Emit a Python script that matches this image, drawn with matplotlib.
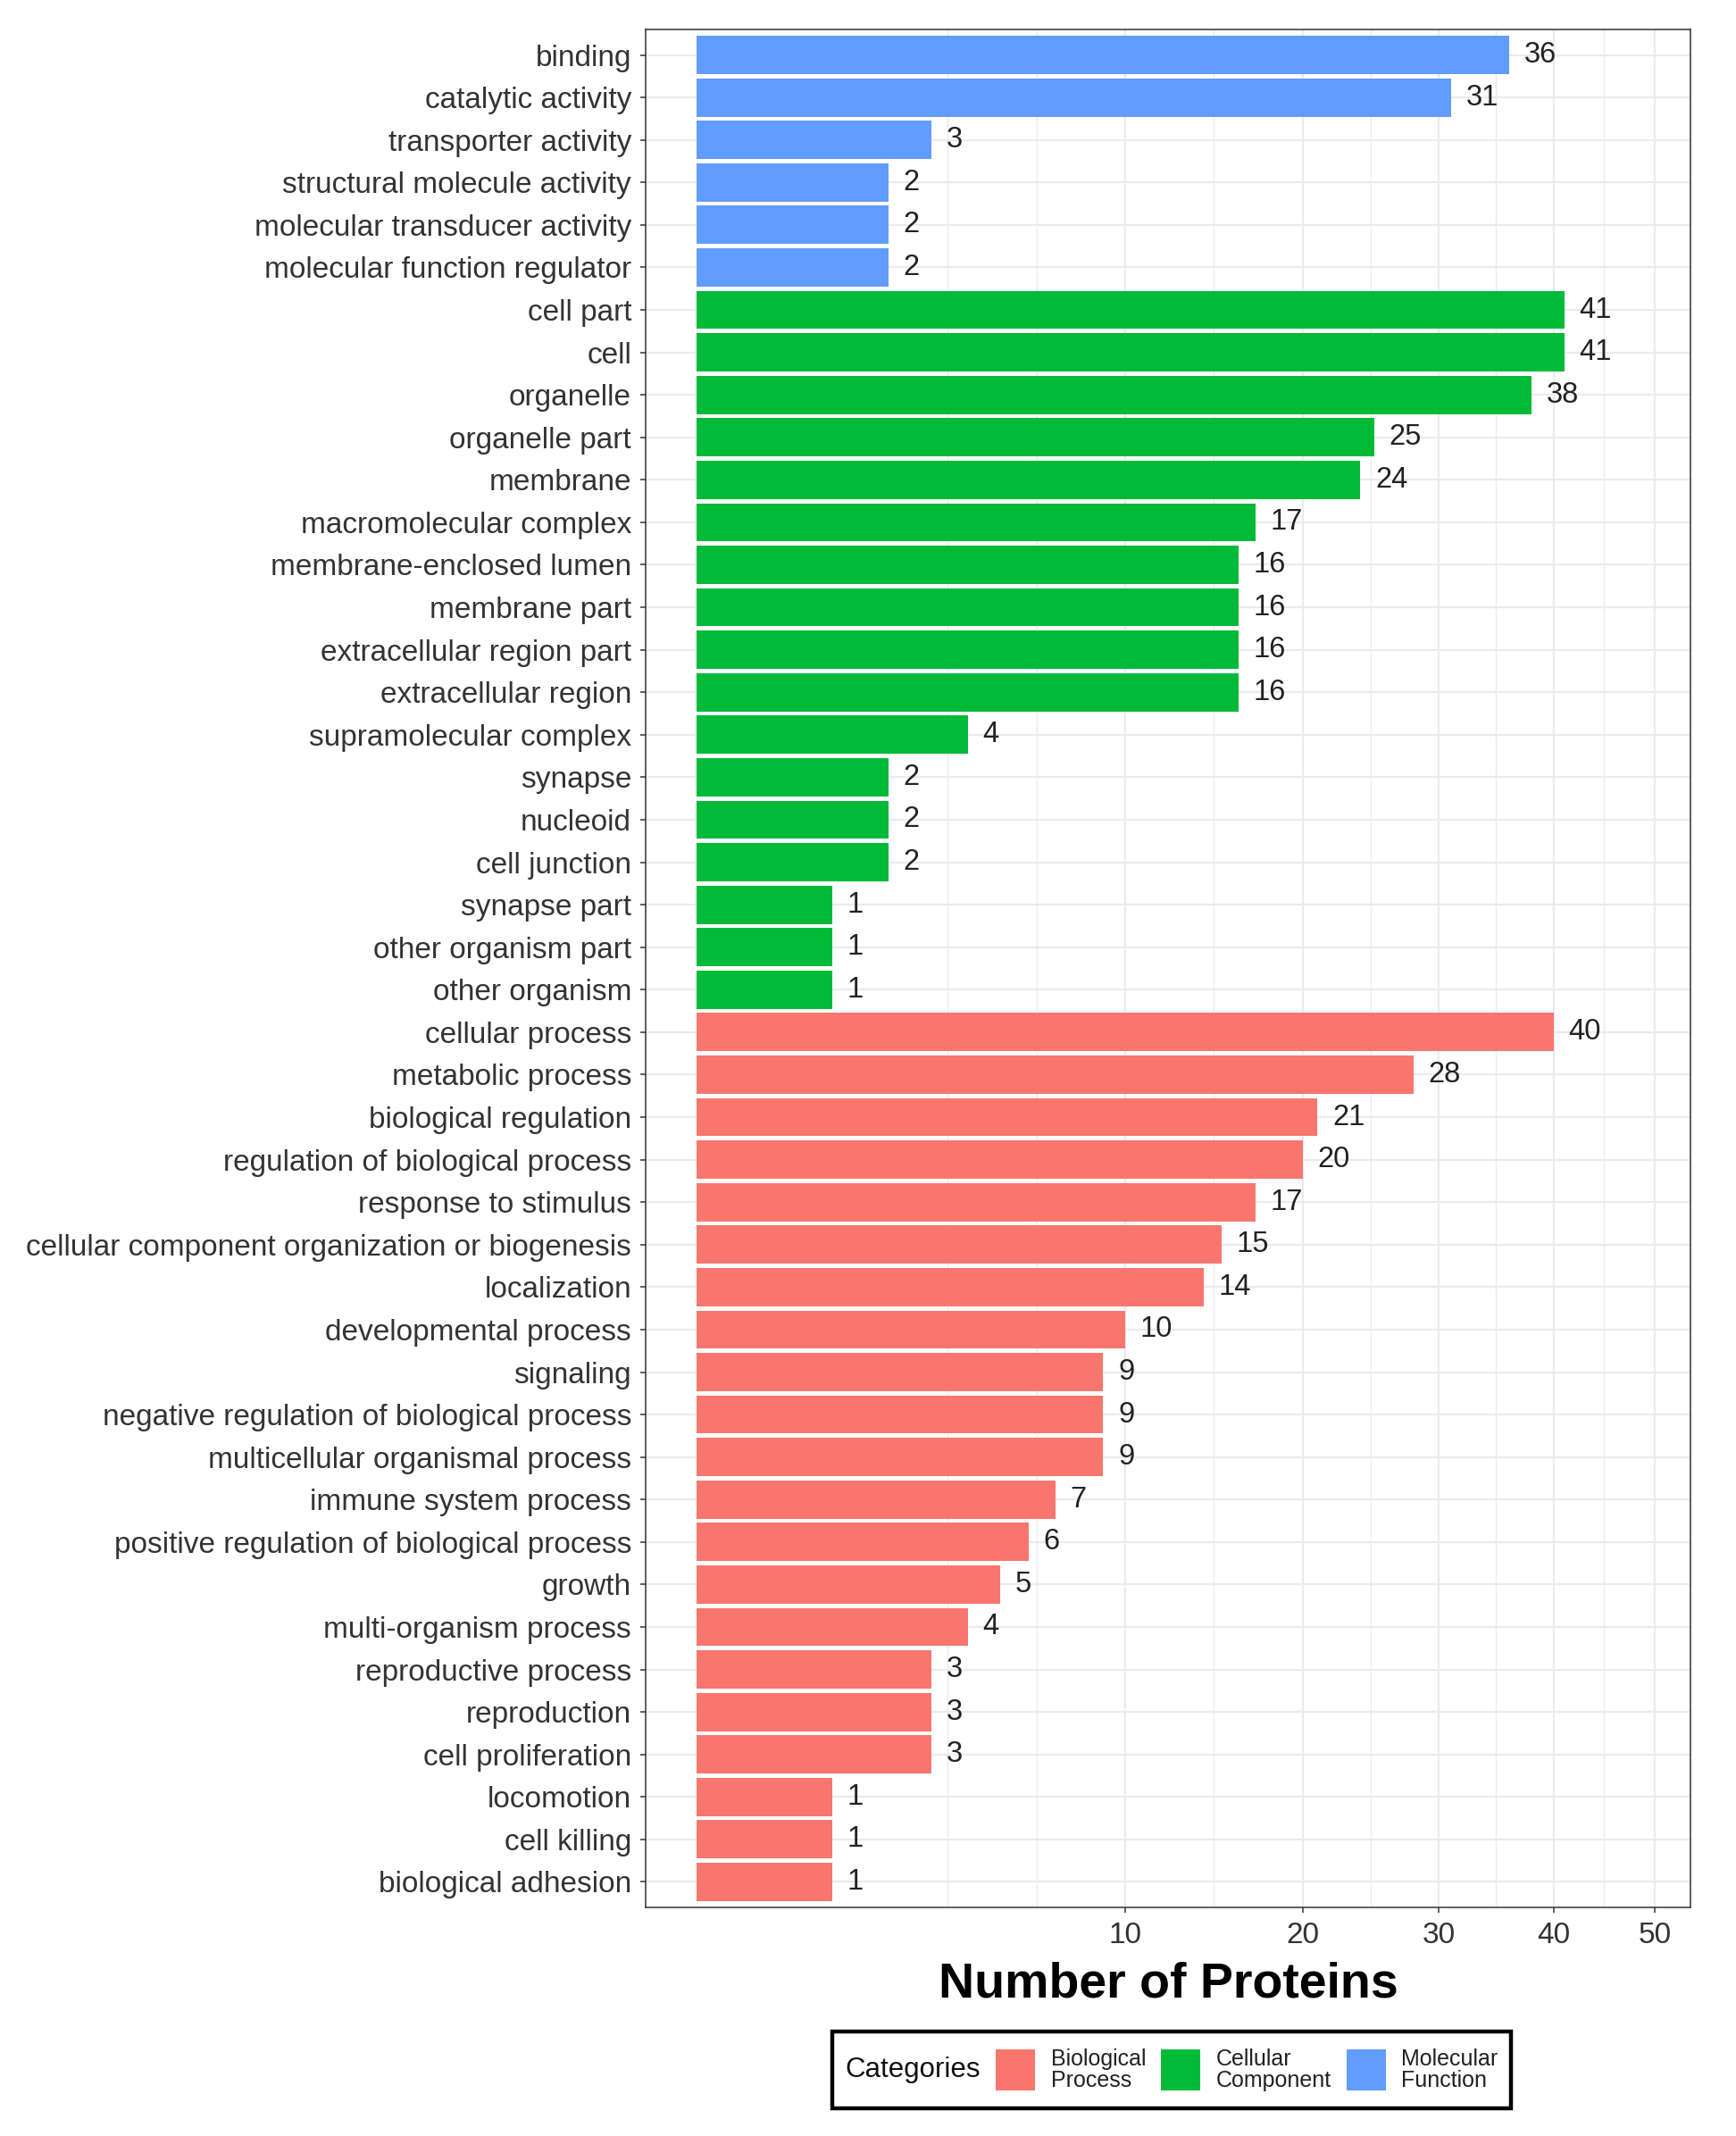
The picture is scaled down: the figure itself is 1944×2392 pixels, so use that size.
import numpy as np
import matplotlib
matplotlib.use("Agg")
import matplotlib.pyplot as plt
from matplotlib.offsetbox import (AnchoredOffsetbox, DrawingArea, HPacker,
                                  TextArea)
from matplotlib.patches import Rectangle

plt.rcParams['font.family'] = ['Liberation Sans', 'DejaVu Sans']

# GO terms, top to bottom
mf_terms = ['binding', 'catalytic activity', 'transporter activity',
            'structural molecule activity', 'molecular transducer activity',
            'molecular function regulator']
mf_counts = [36, 31, 3, 2, 2, 2]

cc_terms = ['cell part', 'cell', 'organelle', 'organelle part', 'membrane',
            'macromolecular complex', 'membrane-enclosed lumen',
            'membrane part', 'extracellular region part',
            'extracellular region', 'supramolecular complex', 'synapse',
            'nucleoid', 'cell junction', 'synapse part',
            'other organism part', 'other organism']
cc_counts = [41, 41, 38, 25, 24, 17, 16, 16, 16, 16, 4, 2, 2, 2, 1, 1, 1]

bp_terms = ['cellular process', 'metabolic process', 'biological regulation',
            'regulation of biological process', 'response to stimulus',
            'cellular component organization or biogenesis', 'localization',
            'developmental process', 'signaling',
            'negative regulation of biological process',
            'multicellular organismal process', 'immune system process',
            'positive regulation of biological process', 'growth',
            'multi-organism process', 'reproductive process', 'reproduction',
            'cell proliferation', 'locomotion', 'cell killing',
            'biological adhesion']
bp_counts = [40, 28, 21, 20, 17, 15, 14, 10, 9, 9, 9, 7, 6, 5, 4, 3, 3, 3,
             1, 1, 1]

x_ticks = [10, 20, 30, 40, 50]

cat_names = ['Biological\nProcess', 'Cellular\nComponent', 'Molecular\nFunction']
cat_colors = ['#F8766D', '#00BA38', '#619CFF']

terms = mf_terms + cc_terms + bp_terms
counts = mf_counts + cc_counts + bp_counts
colors = ([cat_colors[2]] * len(mf_terms) + [cat_colors[1]] * len(cc_terms)
          + [cat_colors[0]] * len(bp_terms))


def fwd(v):
    v = np.asarray(v, dtype=float)
    return np.sign(v) * np.sqrt(np.abs(v))


def inv(v):
    v = np.asarray(v, dtype=float)
    return np.sign(v) * v ** 2


fig = plt.figure(figsize=(19.44, 23.92), dpi=100)
ax = fig.add_axes([723 / 1944, 1 - 2136 / 2392, 1170 / 1944, 2103 / 2392])
ax.set_xscale('function', functions=(fwd, inv))

y = np.arange(len(terms))
ax.barh(y, counts, height=0.9, color=colors, zorder=2)
for yi, c in zip(y, counts):
    ax.annotate(str(c), (c, yi), xytext=(12, 0), textcoords='offset points',
                va='center', ha='left', fontsize=23.5, color='#222222')

ax.set_xlim(inv(-0.378), inv(7.335))
ax.set_ylim(len(terms) - 0.4, -0.6)

# ggplot-style minor breaks in sqrt space
mb = fwd(x_ticks)
ext = mb[0] - (mb[1] - mb[0])
allb = np.concatenate([[ext], mb])
minor = np.concatenate([[ext], (allb[:-1] + allb[1:]) / 2])
ax.set_xticks(x_ticks)
ax.set_xticks(inv(minor), minor=True)
ax.set_xticklabels([str(t) for t in x_ticks])
ax.set_yticks(y)
ax.set_yticklabels(terms)

ax.grid(True, which='major', color='#EBEBEB', linewidth=1.6, zorder=0)
ax.grid(True, which='minor', axis='x', color='#EBEBEB', linewidth=1.0, zorder=0)
ax.set_axisbelow(True)

ax.tick_params(axis='both', which='major', labelsize=24, labelcolor='#333333',
               color='#333333', length=4.5, width=1.1, pad=7)
ax.tick_params(axis='x', which='minor', length=0)
for s in ax.spines.values():
    s.set_color('#333333')
    s.set_linewidth(1.1)

ax.set_xlabel('Number of Proteins', fontsize=40, fontweight='bold',
              labelpad=10)

# legend with title on the left, ggplot style
key_w, key_h, cell_h = 31.5, 32.5, 41
items = [TextArea('Categories', textprops=dict(fontsize=22.5, color='#111111'))]
for name, col in zip(cat_names, cat_colors):
    da = DrawingArea(key_w, cell_h, 0, 0)
    da.add_artist(Rectangle((0, (cell_h - key_h) / 2), key_w, key_h,
                            facecolor=col, edgecolor='none'))
    items.append(da)
    items.append(TextArea(name, textprops=dict(fontsize=18, color='#222222',
                                               linespacing=0.95)))
box = HPacker(children=items, align='center', pad=0, sep=12.5)
anch = AnchoredOffsetbox(loc='center', child=box, pad=1.05, borderpad=0,
                         frameon=True, bbox_to_anchor=(1312 / 1944, 1 - 2318 / 2392),
                         bbox_transform=fig.transFigure)
anch.patch.set_edgecolor('black')
anch.patch.set_linewidth(3.2)
anch.patch.set_boxstyle('square', pad=0)
fig.add_artist(anch)

fig.savefig('out.png', dpi=100)
